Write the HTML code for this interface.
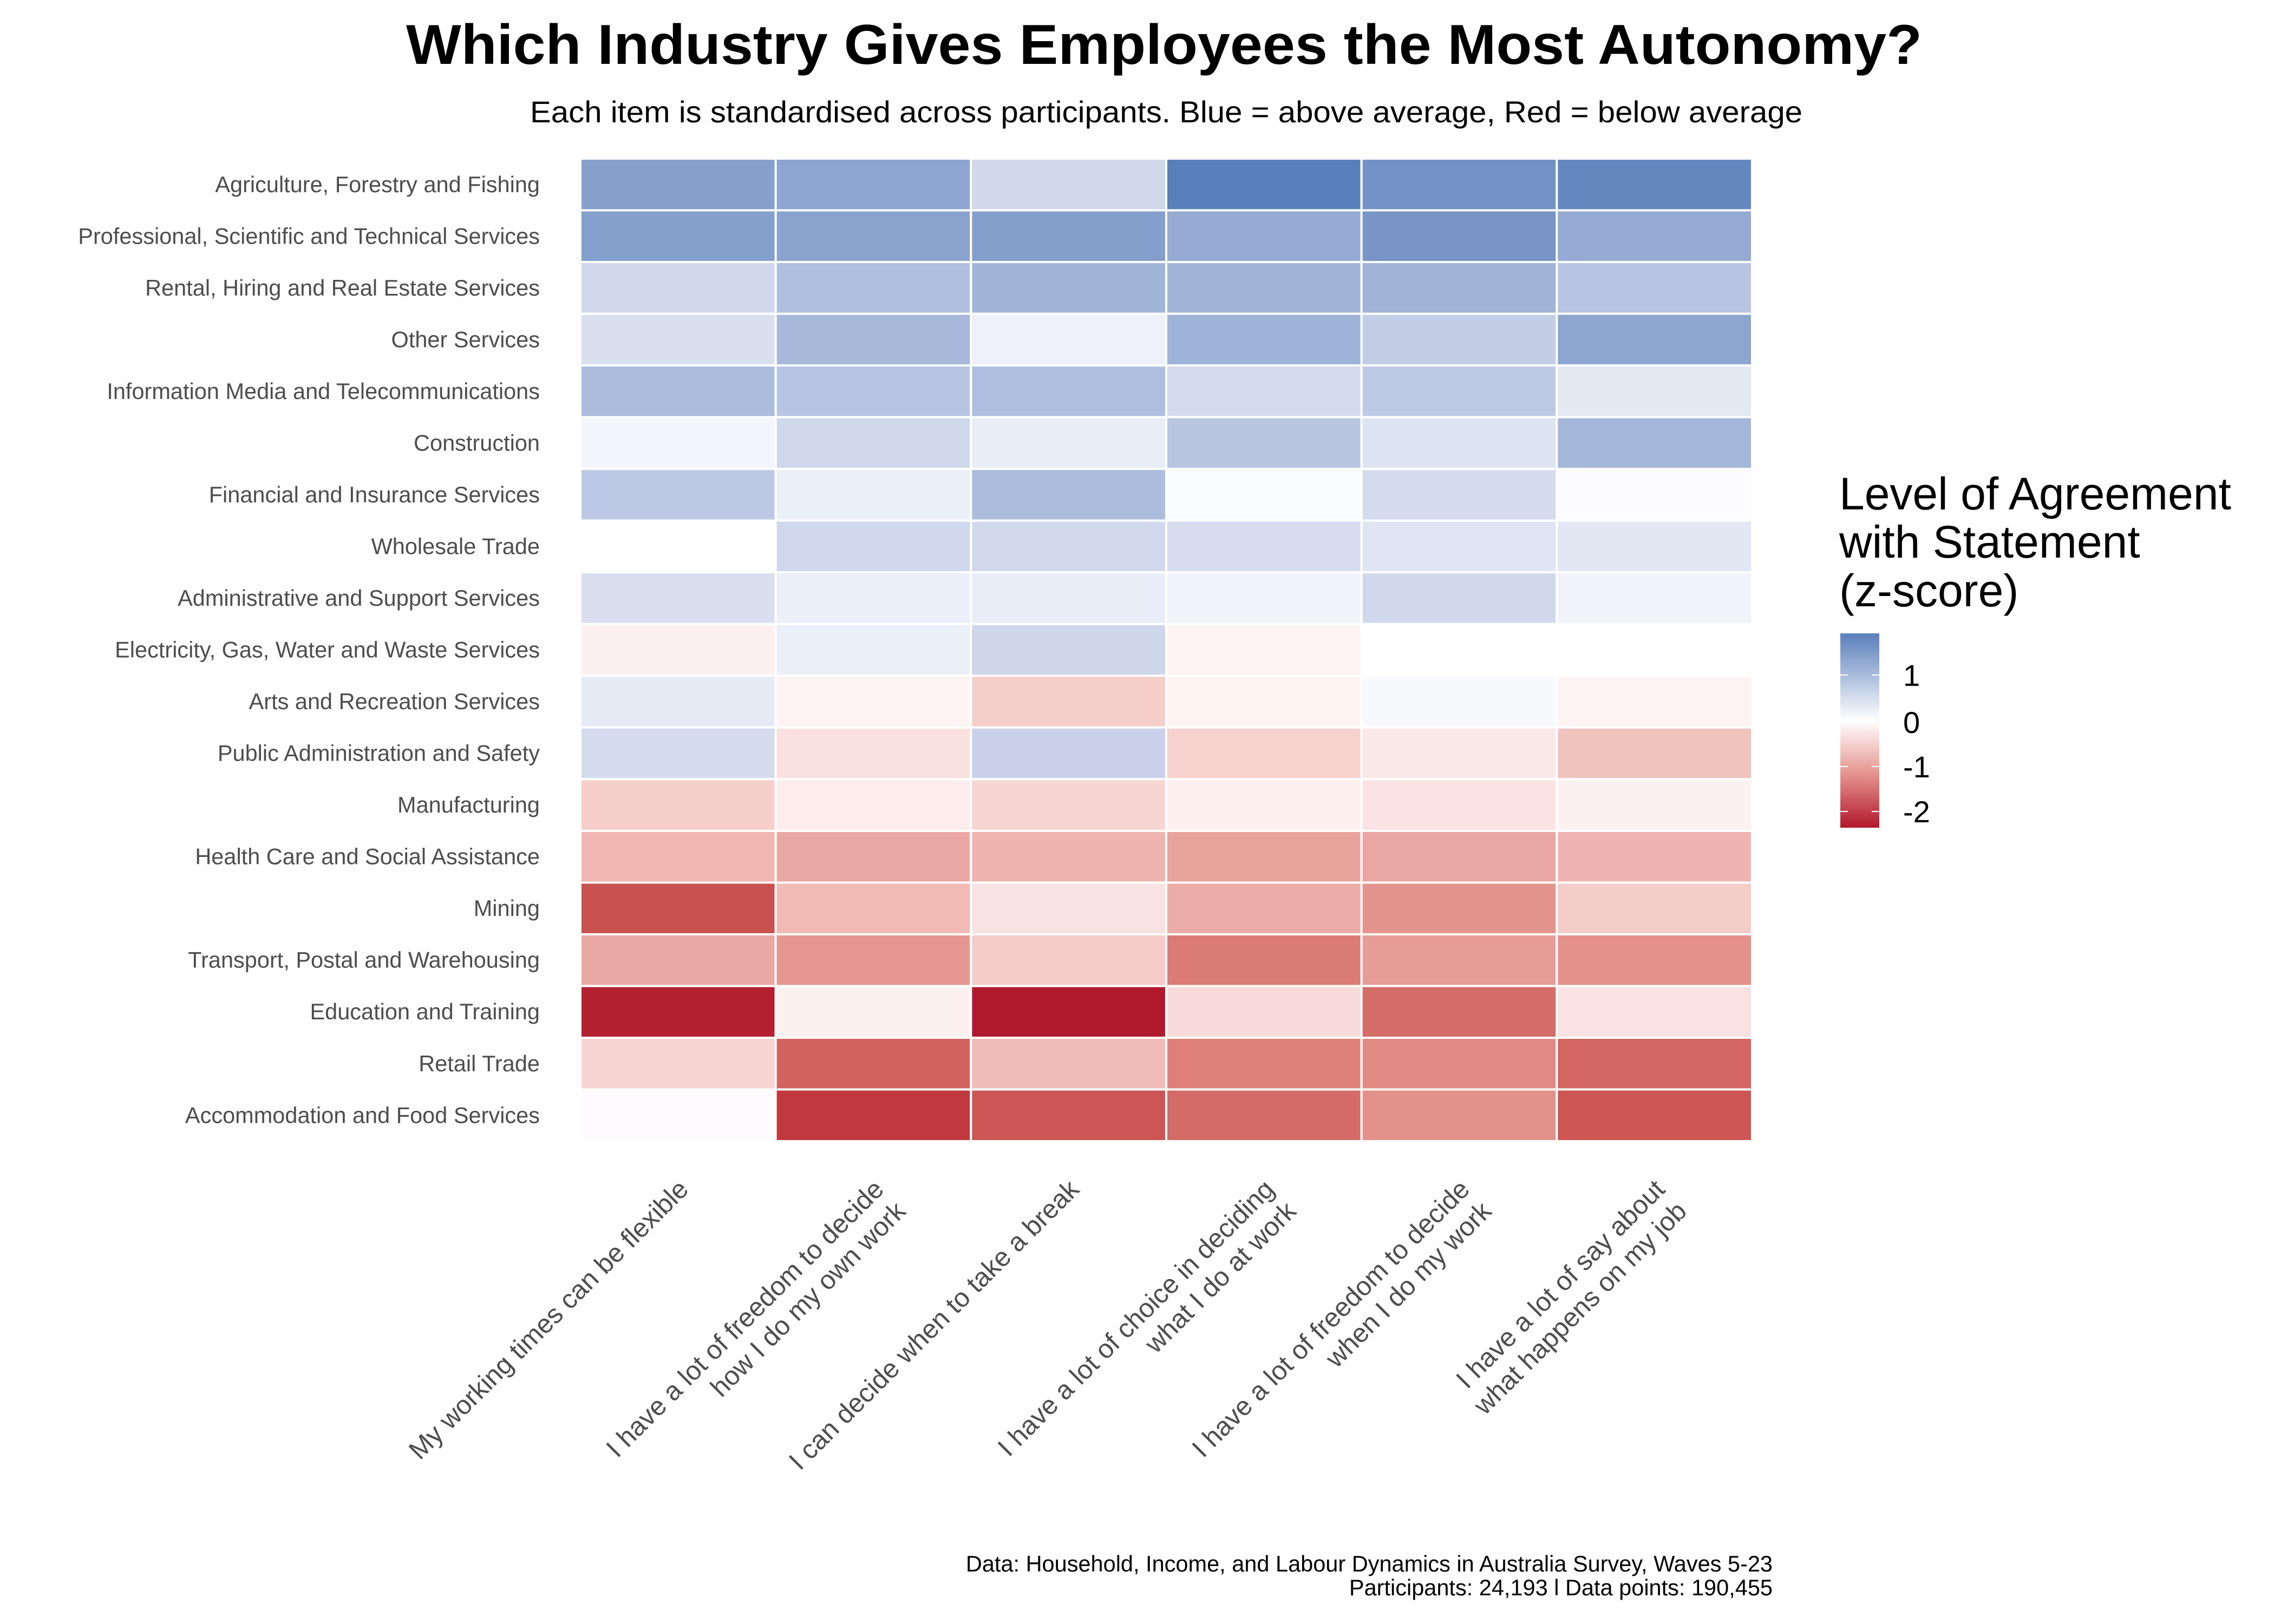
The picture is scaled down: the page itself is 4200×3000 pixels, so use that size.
<!DOCTYPE html>
<html><head><meta charset="utf-8"><style>
html,body{margin:0;padding:0;background:#fff;}
svg{display:block;}
text{font-family:"Liberation Sans",sans-serif;}
</style></head><body>
<svg width="4200" height="3000" viewBox="0 0 4200 3000" xmlns="http://www.w3.org/2000/svg">
<defs>
<linearGradient id="cb" x1="0" y1="0" x2="0" y2="1">
<stop offset="0" stop-color="#5a7fbb"/>
<stop offset="0.45" stop-color="#ffffff"/>
<stop offset="0.72" stop-color="#e5958f"/>
<stop offset="1" stop-color="#b2182b"/>
</linearGradient>
</defs>
<text x="2150" y="118" font-size="104" font-weight="bold" text-anchor="middle" textLength="2800" lengthAdjust="spacingAndGlyphs">Which Industry Gives Employees the Most Autonomy?</text>
<text x="2154" y="226" font-size="56" text-anchor="middle" textLength="2350" lengthAdjust="spacingAndGlyphs">Each item is standardised across participants. Blue = above average, Red = below average</text>
<g id="cells" stroke="#fff" stroke-width="4"></g>
<g id="rl" font-size="41.5" fill="#4d4d4d" text-anchor="end"></g>
<g id="xl" font-size="49" fill="#4d4d4d" text-anchor="end"></g>
<text x="3397" y="941" font-size="84">Level of Agreement</text>
<text x="3397" y="1030" font-size="84">with Statement</text>
<text x="3397" y="1120" font-size="84">(z-score)</text>
<rect x="3399" y="1170" width="72" height="359" fill="url(#cb)"/>
<g stroke="#fff" stroke-width="2">
<line x1="3399" y1="1247" x2="3413" y2="1247"/><line x1="3457" y1="1247" x2="3471" y2="1247"/>
<line x1="3399" y1="1334" x2="3413" y2="1334"/><line x1="3457" y1="1334" x2="3471" y2="1334"/>
<line x1="3399" y1="1416" x2="3413" y2="1416"/><line x1="3457" y1="1416" x2="3471" y2="1416"/>
<line x1="3399" y1="1499" x2="3413" y2="1499"/><line x1="3457" y1="1499" x2="3471" y2="1499"/>
</g>
<g font-size="56">
<text x="3515" y="1267">1</text>
<text x="3515" y="1354">0</text>
<text x="3515" y="1436">-1</text>
<text x="3515" y="1519">-2</text>
</g>
<g font-size="41.5" text-anchor="end">
<text x="3274" y="2903">Data: Household, Income, and Labour Dynamics in Australia Survey, Waves 5-23</text>
<text x="3274" y="2947">Participants: 24,193 l Data points: 190,455</text>
</g>
</svg>
<script>
var C=[
["#87a1cc","#8da5d0","#cfd7ea","#5a80bb","#7292c5","#6487c0"],
["#84a0cc","#89a3cd","#849fcc","#95aad3","#7895c6","#95aad3"],
["#d0d9eb","#aebfdf","#a1b5d8","#a1b5d8","#a1b4d8","#b7c5e2"],
["#dadfef","#a7b8da","#eef1f9","#9eb3d8","#c3cde6","#8da6d0"],
["#abbcdd","#b7c5e2","#adbedf","#d4dbed","#bec9e3","#e4e8f3"],
["#f4f5fb","#cfd8ea","#e9edf6","#b9c6e2","#dce3f1","#a4b6d9"],
["#bdc8e4","#ebeff8","#abbcdd","#fafbfd","#d4dbed","#fcfcfe"],
["#ffffff","#ced7eb","#d2d9ec","#d6dcee","#dfe5f2","#e2e7f3"],
["#d9dfef","#ebeff8","#e9edf7","#f1f3f9","#d0d9ec","#f1f3f9"],
["#fcf1f0","#ebeff8","#ced6ea","#fdf3f2","#ffffff","#ffffff"],
["#e6eaf5","#fdf3f2","#f5cdc9","#fef5f3","#f7f9fc","#fdf3f2"],
["#d4dbed","#fae0de","#c9d2ea","#f6d1ce","#fae8e7","#f1c3bf"],
["#f6cfcb","#fcecec","#f6d5d3","#fcefed","#fbe3e3","#fcf1f1"],
["#efb6b2","#eba7a4","#efb4af","#e8a39c","#eaa6a3","#efb4b1"],
["#c8504f","#f1bab5","#f8e2e2","#ecaca7","#e5948d","#f4ccc8"],
["#eaa8a5","#e59690","#f4cbc8","#db7b75","#e69d96","#e4918c"],
["#b32130","#fdf1f0","#b0192d","#f8dbd8","#d46c67","#f9e2e1"],
["#f7d3d1","#d1625e","#efbbb7","#de8079","#e28a84","#d36662"],
["#fdfbfd","#c0393e","#cc5656","#d46b66","#e2908a","#cd5554"]];
var R=["Agriculture, Forestry and Fishing","Professional, Scientific and Technical Services","Rental, Hiring and Real Estate Services","Other Services","Information Media and Telecommunications","Construction","Financial and Insurance Services","Wholesale Trade","Administrative and Support Services","Electricity, Gas, Water and Waste Services","Arts and Recreation Services","Public Administration and Safety","Manufacturing","Health Care and Social Assistance","Mining","Transport, Postal and Warehousing","Education and Training","Retail Trade","Accommodation and Food Services"];
var X=[["My working times can be flexible"],["I have a lot of freedom to decide","how I do my own work"],["I can decide when to take a break"],["I have a lot of choice in deciding","what I do at work"],["I have a lot of freedom to decide","when I do my work"],["I have a lot of say about","what happens on my job"]];
var ns="http://www.w3.org/2000/svg",x0=1072,y0=293,cw=360.67,rh=95.53;
function el(t,a,p,txt){var e=document.createElementNS(ns,t);for(var k in a)e.setAttribute(k,a[k]);if(txt)e.textContent=txt;p.appendChild(e);return e;}
var g=document.getElementById('cells'),rl=document.getElementById('rl'),xl=document.getElementById('xl');
for(var r=0;r<19;r++){for(var c=0;c<6;c++){el('rect',{x:x0+c*cw,y:y0+r*rh,width:cw,height:rh,fill:C[r][c]},g);}
el('text',{x:997,y:(y0+(r+0.5)*rh+14).toFixed(1)},rl,R[r]);}
for(var c=0;c<6;c++){var cx=x0+(c+0.5)*cw+22,gg=el('g',{transform:'translate('+cx.toFixed(1)+',2200) rotate(-45)'},xl);
for(var i=0;i<X[c].length;i++)el('text',{x:0,y:i*57},gg,X[c][i]);}
</script>
</body></html>
